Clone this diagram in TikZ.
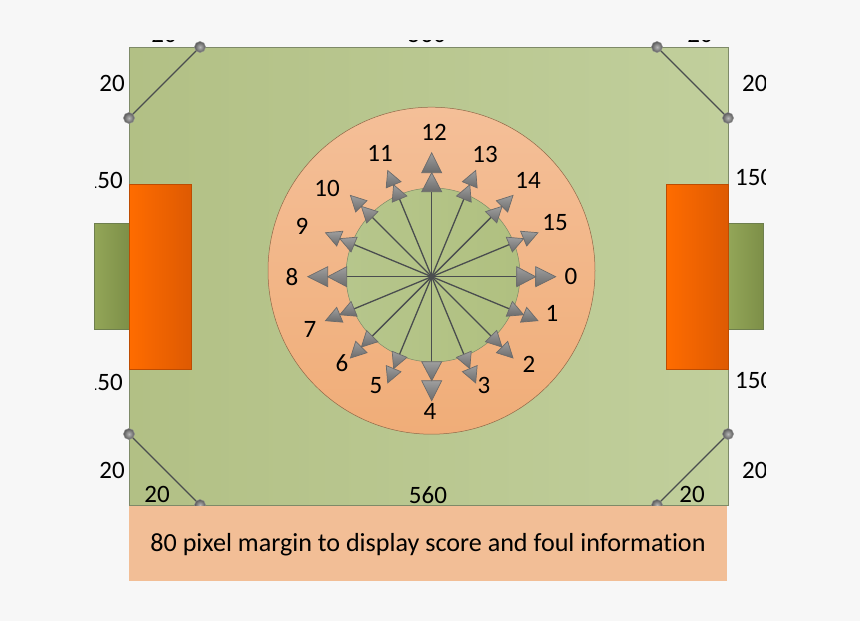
\documentclass[tikz,border=0pt]{standalone}
\usepackage{fontspec}
\setmainfont[RawFeature={-liga;-dlig;-clig}]{Carlito}
\usetikzlibrary{calc}
\definecolor{bgc}{HTML}{F7F7F7}
\definecolor{edgec}{HTML}{7E8A68}
\definecolor{spokec}{HTML}{4A4D4F}
\definecolor{fieldL}{HTML}{B2C085}
\definecolor{fieldR}{HTML}{C1CF9C}
\definecolor{ringT}{HTML}{F4BF98}
\definecolor{ringB}{HTML}{F0AD78}
\definecolor{coreL}{HTML}{B6C68C}
\definecolor{coreR}{HTML}{B0C080}
\definecolor{orangeL}{HTML}{FF6C00}
\definecolor{orangeR}{HTML}{DE5A02}
\definecolor{goalD}{HTML}{7D8F48}
\definecolor{goalL}{HTML}{93A658}
\definecolor{goalE}{HTML}{6E7F4E}
\definecolor{marginc}{HTML}{F2BE96}
\tikzset{
  lbl/.style={inner sep=0pt,font=\fontsize{25}{25}\selectfont,text=black},
  box/.style={rectangle,inner sep=0pt,anchor=center},
  ball/.style={circle,inner sep=0pt,minimum size=11pt,draw=black!45,line width=0.5pt,
     inner color=black!28,outer color=black!65},
  headshade/.style={draw=black!58,line width=0.7pt,top color=black!38,middle color=black!18,bottom color=black!58},
  spoke/.style={draw=spokec,line width=1.3pt},
  cut/.style={draw=spokec,line width=1.3pt},
  goalbox/.style={box,minimum width=35pt,minimum height=106pt,left color=goalL,right color=goalD,draw=goalE,line width=0.8pt},
  penbox/.style={box,minimum width=62pt,minimum height=185pt,left color=orangeL,right color=orangeR,draw=orangeR!85!black,line width=0.6pt},
}
\begin{document}
\begin{tikzpicture}[x=1pt,y=-1pt]
\useasboundingbox (0,0) rectangle (860,621);
\fill[bgc] (0,0) rectangle (860,621);
% goals
\node[goalbox] (goalA) at (111.5,276) {};
\node[goalbox] (goalB) at (745.5,276) {};
% field
\node[box,minimum width=599pt,minimum height=458pt,left color=fieldL,right color=fieldR,draw=edgec,line width=0.8pt] (field) at (428.5,276) {};
% penalty boxes
\node[penbox] (penA) at (160,276.5) {};
\node[penbox] (penB) at (697,276.5) {};
% ring and core
\node[circle,inner sep=0,minimum size=327pt,top color=ringT,bottom color=ringB,draw=black!40!ringB,line width=0.5pt] (ring) at (431.5,270.7) {};
\node[circle,inner sep=0,minimum size=174pt,left color=coreL,right color=coreR,draw=edgec,line width=0.5pt] (core) at (433,275) {};
\coordinate (c) at (431.7,276.7);
% spokes and arrow heads
\foreach \n in {0,...,15}{
  \pgfmathsetmacro{\a}{22.5*\n}
  \pgfmathtruncatemacro{\big}{mod(\n,4)==0 ? 1 : 0}
  \ifnum\big=1
    \def\ra{85}\def\rb{104}\def\rc{124}\def\hw{10}
  \else
    \def\ra{84}\def\rb{99.5}\def\rc{115}\def\hw{8}
  \fi
  \coordinate (sp\n) at ($(c)+(\a:\ra)$);
  \draw[spoke] (c) -- (sp\n);
  \shade[headshade] ($(c)+(\a:\rb)+(\a+90:\hw)$) -- ($(c)+(\a:\rc)$) -- ($(c)+(\a:\rb)+(\a-90:\hw)$) -- cycle;
  \shade[headshade] ($(c)+(\a:\ra)+(\a+90:\hw)$) -- ($(c)+(\a:\rb)$) -- ($(c)+(\a:\ra)+(\a-90:\hw)$) -- cycle;
}
% direction labels
\foreach \n/\x/\y in {0/571/276,1/552/313,2/529/364,3/484/385,4/430/411,5/376/386,6/342/363,7/310/329,8/292/277,9/302/226,10/327/188,11/380/153,12/434/132,13/485/154,14/528/180,15/555/223}
  \node[lbl] (d\n) at (\x,\y) {\n};
% corner cuts
\node[ball] (h1) at (200,47) {};
\node[ball] (h2) at (129,118) {};
\node[ball] (h3) at (657,47) {};
\node[ball] (h4) at (728,118) {};
\node[ball] (h5) at (129,434) {};
\node[ball] (h6) at (200,505) {};
\node[ball] (h7) at (728,434) {};
\node[ball] (h8) at (657,505) {};
\draw[cut] (h1) -- (h2);
\draw[cut] (h3) -- (h4);
\draw[cut] (h5) -- (h6);
\draw[cut] (h7) -- (h8);
% margin
\node[box,minimum width=598pt,minimum height=75pt,fill=marginc] (margin) at (428,543.5) {};
\node[lbl,font=\fontsize{26.1}{26.1}\selectfont] (margintext) at (428,545) {80 pixel margin to display score and foul information};
% labels
\node[lbl] (b560) at (428,495) {560};
\node[lbl] (b20a) at (157,494) {20};
\node[lbl] (b20b) at (692,494) {20};
\node[lbl] (l20a) at (112,83) {20};
\node[lbl] (l20b) at (112,470) {20};
\begin{scope}
  \clip (95.3,150) rectangle (130,400);
  \node[lbl,anchor=east] (l150a) at (123,180) {150};
  \node[lbl,anchor=east] (l150b) at (123,382) {150};
\end{scope}
\begin{scope}
  \clip (730,60) rectangle (765,500);
  \node[lbl,anchor=west] (r20a) at (742,83) {20};
  \node[lbl,anchor=west] (r20b) at (742,470) {20};
  \node[lbl,anchor=west] (r150a) at (735,177) {150};
  \node[lbl,anchor=west] (r150b) at (735,380) {150};
\end{scope}
\begin{scope}
  \clip (100,40) rectangle (760,46);
  \node[lbl,anchor=base] (t20a) at (164,42) {20};
  \node[lbl,anchor=base] (t560) at (427,42) {560};
  \node[lbl,anchor=base] (t20b) at (700,42) {20};
\end{scope}
\end{tikzpicture}
\end{document}
